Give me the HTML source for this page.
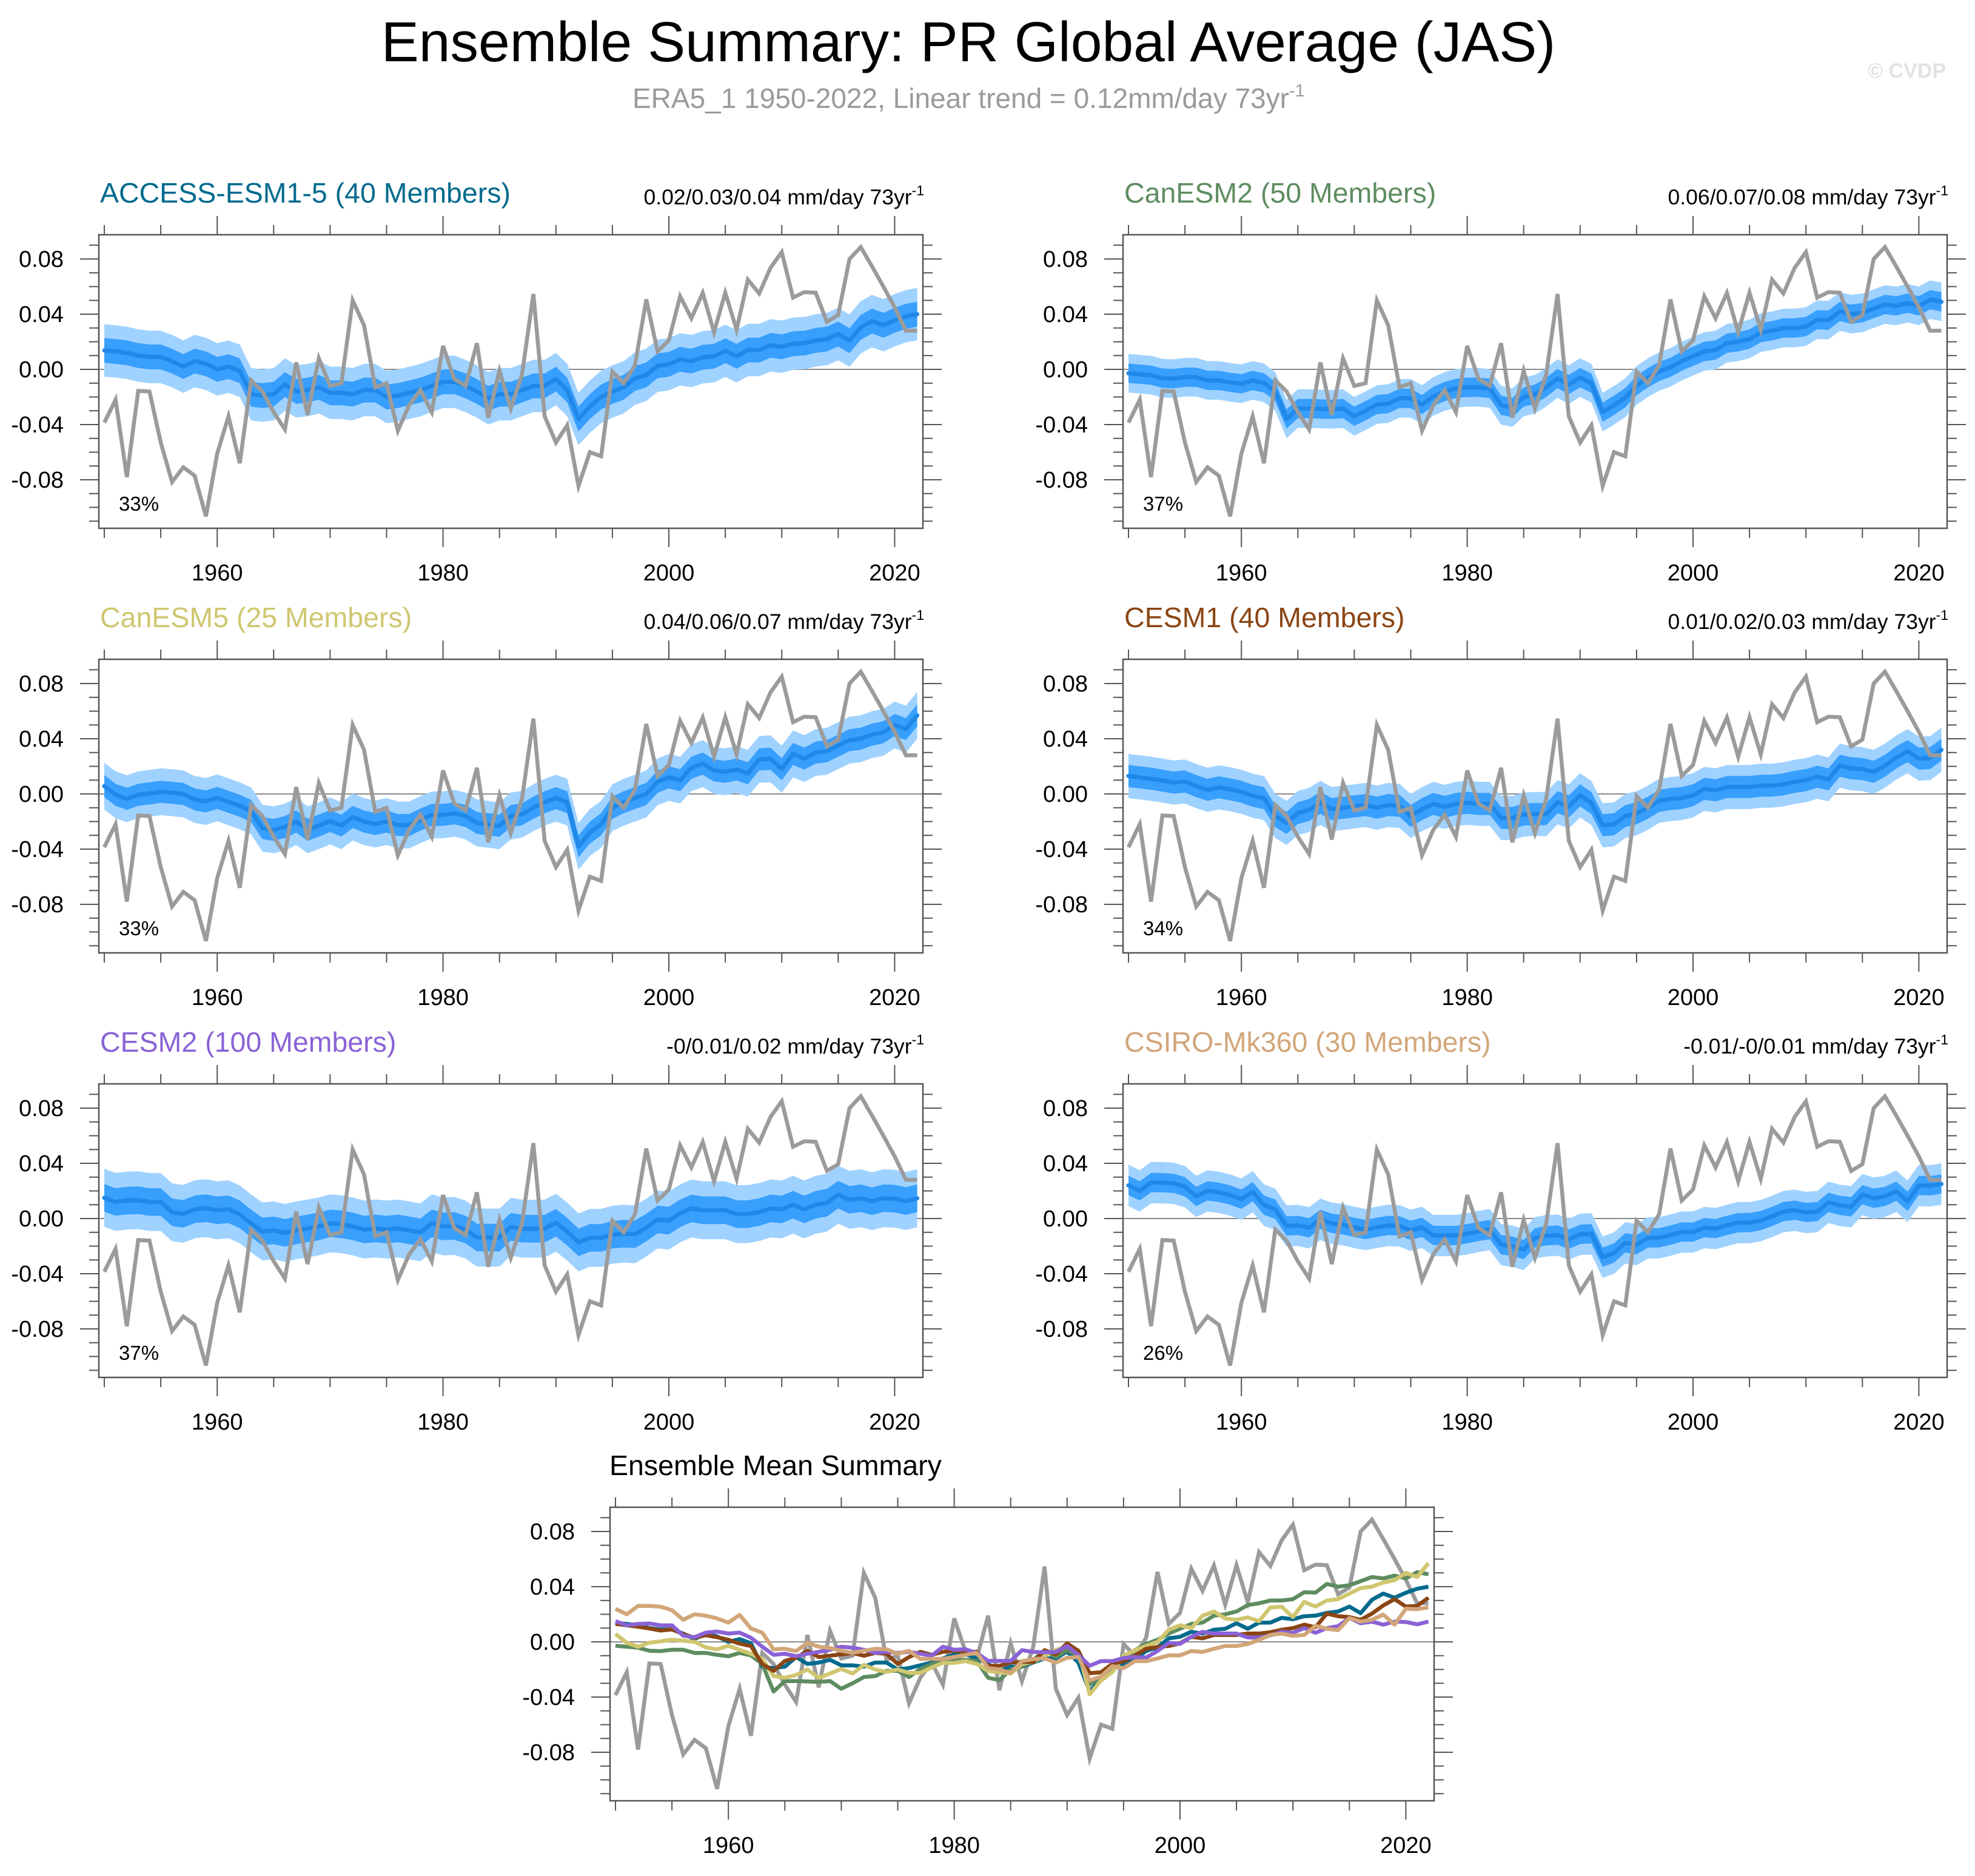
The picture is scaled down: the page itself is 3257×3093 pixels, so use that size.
<!DOCTYPE html>
<html><head><meta charset="utf-8"><title>Ensemble Summary: PR Global Average (JAS)</title>
<style>
html,body{margin:0;padding:0;background:#fff;}
svg{display:block;font-family:"Liberation Sans",Arial,sans-serif;}
</style></head>
<body>
<svg id="chart" xmlns="http://www.w3.org/2000/svg" width="3257" height="3093" viewBox="0 0 3257 3093">
<rect x="0" y="0" width="3257" height="3093" fill="#fff"/>
<text x="1597" y="101" font-size="93" text-anchor="middle" fill="#000">Ensemble Summary: PR Global Average (JAS)</text>
<text x="1043" y="178" font-size="46" fill="#9a9a9a">ERA5_1 1950-2022, Linear trend = 0.12mm/day 73yr<tspan font-size="29" dy="-19">-1</tspan></text>
<text x="3209" y="128" font-size="34" font-weight="bold" text-anchor="end" fill="#e2e2e2">© CVDP</text>
</svg>
<script>
// ---------- data ----------
const startYear = 1950;
const obs = [-0.0386,-0.022,-0.078,-0.0156,-0.016,-0.053,-0.0816,-0.071,-0.077,-0.1065,-0.061,-0.034,-0.068,-0.008,-0.016,-0.031,-0.0435,0.005,-0.033,0.008,-0.012,-0.010,0.050,0.032,-0.013,-0.010,-0.0445,-0.026,-0.015,-0.031,0.017,-0.007,-0.012,0.019,-0.035,-0.001,-0.0285,-0.0035,0.0546,-0.034,-0.053,-0.0405,-0.0845,-0.060,-0.063,-0.0016,-0.010,0.003,0.0507,0.013,0.021,0.053,0.037,0.0554,0.027,0.0556,0.0287,0.065,0.055,0.0736,0.085,0.052,0.056,0.0556,0.0345,0.0394,0.080,0.0886,0.0745,0.060,0.045,0.028,0.028];
const meanACCESS = [0.0137,0.013,0.012,0.010,0.009,0.009,0.006,0.002,0.006,0.004,0.000,0.002,-0.001,-0.018,-0.019,-0.018,-0.011,-0.016,-0.015,-0.013,-0.017,-0.017,-0.018,-0.015,-0.015,-0.020,-0.019,-0.017,-0.015,-0.012,-0.009,-0.009,-0.012,-0.016,-0.021,-0.018,-0.018,-0.015,-0.012,-0.012,-0.007,-0.015,-0.036,-0.027,-0.020,-0.016,-0.013,-0.0066,-0.004,0.0026,0.0037,0.0073,0.006,0.0088,0.0095,0.0135,0.0095,0.014,0.014,0.0174,0.0164,0.0186,0.019,0.021,0.022,0.0256,0.0208,0.0305,0.035,0.032,0.0356,0.0385,0.040];
const meanCanESM2 = [-0.0028,-0.0035,-0.0042,-0.0064,-0.0067,-0.0057,-0.0057,-0.008,-0.008,-0.0094,-0.0104,-0.008,-0.0098,-0.016,-0.036,-0.0284,-0.0284,-0.0287,-0.029,-0.0284,-0.034,-0.030,-0.0255,-0.0248,-0.021,-0.021,-0.0255,-0.0196,-0.016,-0.0138,-0.013,-0.013,-0.0138,-0.026,-0.0277,-0.020,-0.018,-0.013,-0.0066,-0.011,-0.006,-0.010,-0.031,-0.026,-0.0205,-0.0117,-0.006,-0.0015,0.0015,0.006,0.0095,0.013,0.014,0.019,0.020,0.022,0.0267,0.028,0.030,0.030,0.031,0.036,0.0357,0.042,0.040,0.041,0.044,0.047,0.046,0.048,0.046,0.0505,0.049];
const meanCanESM5 = [0.0057,-0.0006,-0.0035,-0.0006,0.0004,0.0016,0.0009,0.0,-0.004,-0.0054,-0.0028,-0.0057,-0.0086,-0.0123,-0.0248,-0.026,-0.024,-0.020,-0.026,-0.023,-0.0196,-0.023,-0.0167,-0.020,-0.0218,-0.020,-0.0225,-0.0225,-0.0186,-0.0152,-0.0152,-0.014,-0.016,-0.021,-0.022,-0.023,-0.016,-0.0147,-0.010,-0.006,-0.003,-0.006,-0.038,-0.028,-0.022,-0.010,-0.006,-0.003,0.0,0.0088,0.012,0.010,0.019,0.022,0.017,0.016,0.0177,0.015,0.025,0.0255,0.018,0.029,0.0256,0.030,0.031,0.035,0.039,0.040,0.043,0.0447,0.050,0.047,0.057];
const meanCESM1 = [0.013,0.012,0.011,0.0097,0.0082,0.009,0.0057,0.003,0.0048,0.0034,0.0016,-0.0013,-0.003,-0.016,-0.021,-0.0138,-0.0116,-0.0064,-0.011,-0.010,-0.009,-0.008,-0.010,-0.008,-0.0086,-0.016,-0.011,-0.0072,-0.0094,-0.0072,-0.0064,-0.0072,-0.0072,-0.0174,-0.0174,-0.015,-0.0145,-0.0147,-0.006,-0.009,-0.001,-0.0066,-0.0227,-0.022,-0.016,-0.014,-0.010,-0.005,-0.0037,-0.003,-0.001,0.0037,0.0026,0.005,0.005,0.005,0.006,0.006,0.007,0.0088,0.010,0.0125,0.0106,0.0205,0.0186,0.018,0.016,0.0205,0.0264,0.031,0.0256,0.026,0.032];
const meanCESM2 = [0.015,0.012,0.013,0.0133,0.012,0.012,0.0045,0.0034,0.0067,0.0075,0.006,0.0067,0.003,-0.0035,-0.0094,-0.0086,-0.0104,-0.0086,-0.0072,-0.0057,-0.0035,-0.0042,-0.0057,-0.008,-0.0072,-0.008,-0.0072,-0.0086,-0.010,-0.0035,-0.0057,-0.0054,-0.008,-0.0138,-0.0138,-0.0138,-0.006,-0.0073,-0.0075,-0.0073,-0.003,-0.0095,-0.0173,-0.014,-0.014,-0.0117,-0.011,-0.0114,-0.0066,-0.0007,-0.0015,0.0037,0.0073,0.006,0.006,0.006,0.0032,0.0032,0.0047,0.0073,0.0066,0.010,0.0066,0.010,0.0114,0.0173,0.0135,0.0147,0.0125,0.0147,0.0144,0.0127,0.0147];
const meanCSIRO = [0.024,0.020,0.026,0.026,0.0255,0.023,0.016,0.020,0.019,0.017,0.014,0.0195,0.0097,0.0067,-0.0054,-0.005,-0.0067,-0.0006,-0.0035,-0.0045,-0.0064,-0.008,-0.0064,-0.005,-0.0053,-0.0086,-0.0064,-0.0123,-0.0123,-0.0123,-0.011,-0.0094,-0.008,-0.019,-0.020,-0.0225,-0.014,-0.0125,-0.012,-0.015,-0.0115,-0.011,-0.028,-0.025,-0.0176,-0.019,-0.014,-0.014,-0.012,-0.0098,-0.0098,-0.0066,-0.0073,-0.005,-0.003,-0.003,-0.0015,0.0015,0.005,0.006,0.0044,0.005,0.0117,0.0095,0.0085,0.0173,0.0147,0.016,0.0198,0.0125,0.024,0.0237,0.025];
const modelNames = ["ACCESS-ESM1-5 (40 Members)","CanESM2 (50 Members)","CanESM5 (25 Members)","CESM1 (40 Members)","CESM2 (100 Members)","CSIRO-Mk360 (30 Members)"];
const trendLabels = ["0.02/0.03/0.04","0.06/0.07/0.08","0.04/0.06/0.07","0.01/0.02/0.03","-0/0.01/0.02","-0.01/-0/0.01"];
const percentLabels = ["33%","37%","33%","34%","37%","26%"];
const innerSpread = [0.009,0.007,0.008,0.008,0.010,0.007];
const outerSpread = [0.019,0.014,0.017,0.016,0.021,0.015];
const yTickLabels = ["-0.08","-0.04","0.00","0.04","0.08"];
const xTickLabels = ["1960","1980","2000","2020"];
const modelMeans = [meanACCESS,meanCanESM2,meanCanESM5,meanCESM1,meanCESM2,meanCSIRO];
const modelColors = ["#006a8e","#5e8c60","#d0c670","#8b4513","#8a62d6","#d2a679"];
const slugs = ["access-esm1-5","canesm2","canesm5","cesm1","cesm2","csiro-mk360"];

// ---------- geometry ----------
const NS = "http://www.w3.org/2000/svg";
const svg = document.getElementById("chart");
const PX_PER_YEAR = 18.62, PX_PER_UNIT = 2275, FRAME_W = 1359, FRAME_H = 484, ZERO_OFF = 222;
function mk(tag, attrs, parent){ const e=document.createElementNS(NS,tag); for(const k in attrs) e.setAttribute(k,attrs[k]); (parent||svg).appendChild(e); return e; }
function makeAxes(fx, fy){
  return { x: yr => fx + 9 + (yr - startYear)*PX_PER_YEAR, y: v => fy + ZERO_OFF - v*PX_PER_UNIT };
}
function pathFrom(vals, ax){ return vals.map((v,i)=>(i?"L":"M")+ax.x(startYear+i).toFixed(1)+","+ax.y(v).toFixed(1)).join(""); }
function bandFrom(vals, w, ax){
  let d = vals.map((v,i)=>(i?"L":"M")+ax.x(startYear+i).toFixed(1)+","+ax.y(v+w).toFixed(1)).join("");
  for(let i=vals.length-1;i>=0;i--) d += "L"+ax.x(startYear+i).toFixed(1)+","+ax.y(vals[i]-w).toFixed(1);
  return d+"Z";
}

function drawFrame(g, fx, fy, ax, name){
  mk("rect",{x:fx,y:fy,width:FRAME_W,height:FRAME_H,fill:"#fff",stroke:"none"},g);
  const tg = mk("g",{stroke:"#555","stroke-width":2},g);
  
  
  for(let k=-11;k<=9;k++){
    const y = ax.y(k/100); if(y<fy||y>fy+FRAME_H) continue;
    const len = (k%4===0)?31:16;
    mk("line",{x1:fx-len,y1:y,x2:fx,y2:y},tg);
    mk("line",{x1:fx+FRAME_W,y1:y,x2:fx+FRAME_W+len,y2:y},tg);
  }
  for(let yr=1950; yr<=2020; yr+=5){
    const x = ax.x(yr); const len = (yr%20===0)?31:16;
    mk("line",{x1:x,y1:fy-len,x2:x,y2:fy},tg);
    mk("line",{x1:x,y1:fy+FRAME_H,x2:x,y2:fy+FRAME_H+len},tg);
  }
  yTickLabels.forEach(s=>{
    const t = mk("text",{x:fx-58,y:ax.y(parseFloat(s))+13,"font-size":38,"text-anchor":"end",fill:"#000"},g);
    t.textContent = s;
    
    
  });
  xTickLabels.forEach(s=>{
    const t = mk("text",{x:ax.x(parseInt(s)),y:fy+FRAME_H+86,"font-size":38,"text-anchor":"middle",fill:"#000"},g);
    t.textContent = s;
    
    
  });
}
function drawZero(g, fx, ax){
  const z = mk("line",{x1:fx,y1:ax.y(0),x2:fx+FRAME_W,y2:ax.y(0),stroke:"#8a8a8a","stroke-width":2},g);
  
  
}
function drawObs(g, ax){
  const o = mk("path",{d:pathFrom(obs,ax),fill:"none",stroke:"#9b9b9b","stroke-width":6.5,"stroke-linejoin":"miter"},g);
  
  
}
function drawBorder(g, fx, fy){
  mk("rect",{x:fx,y:fy,width:FRAME_W,height:FRAME_H,fill:"none",stroke:"#555","stroke-width":2.5},g);
}

// ---------- model panels ----------
const colX = [163, 1852], rowY = [387, 1087, 1787];
modelNames.forEach((nm,i)=>{
  const fx = colX[i%2], fy = rowY[Math.floor(i/2)];
  const ax = makeAxes(fx, fy);
  const g = mk("g",{});
  
  
  drawFrame(g, fx, fy, ax, slugs[i]);
  drawZero(g, fx, ax);
  const ob = mk("path",{d:bandFrom(modelMeans[i],outerSpread[i],ax),fill:"#a0d2ff"},g);
  
  
  const ib = mk("path",{d:bandFrom(modelMeans[i],innerSpread[i],ax),fill:"#389ffd"},g);
  
  
  const ml = mk("path",{d:pathFrom(modelMeans[i],ax),fill:"none",stroke:"#1f88e8","stroke-width":7,"stroke-linecap":"round","stroke-linejoin":"round"},g);
  
  
  drawObs(g, ax);
  drawBorder(g, fx, fy);
  const tt = mk("text",{x:fx+2,y:fy-53,"font-size":46.5,fill:modelColors[i]},g);
  tt.textContent = nm;
  
  
  const tr = mk("text",{x:fx+FRAME_W+2,y:fy-50,"font-size":35.5,"text-anchor":"end",fill:"#000"},g);
  tr.textContent = trendLabels[i]+" mm/day 73yr";
  const sup = mk("tspan",{"font-size":23,dy:-15},tr);
  sup.textContent = "-1";
  
  
  const pc = mk("text",{x:fx+33,y:fy+455,"font-size":33,fill:"#000"},g);
  pc.textContent = percentLabels[i];
  
  
});

// ---------- ensemble mean summary ----------
(function(){
  const fx = 1006, fy = 2485, ax = makeAxes(fx, fy);
  const g = mk("g",{});
  
  
  drawFrame(g, fx, fy, ax, 'summary');
  drawZero(g, fx, ax);
  drawObs(g, ax);
  modelMeans.forEach((m,i)=>{
    const l = mk("path",{d:pathFrom(m,ax),fill:"none",stroke:modelColors[i],"stroke-width":6.5,"stroke-linejoin":"round"},g);
    
    
  });
  drawBorder(g, fx, fy);
  const t = mk("text",{x:1005,y:2432,"font-size":46.5,fill:"#000"},g);
  t.textContent = "Ensemble Mean Summary";
  
  
})();
</script>
</body></html>
